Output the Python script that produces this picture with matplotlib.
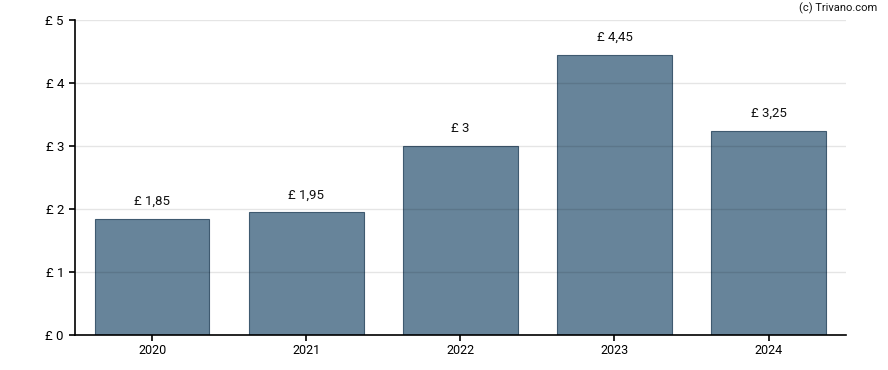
import matplotlib
matplotlib.use("Agg")
import matplotlib.pyplot as plt

# data
years = ['2020', '2021', '2022', '2023', '2024']
dividends = [1.85, 1.95, 3.0, 4.45, 3.25]
value_labels = ['£ 1,85', '£ 1,95', '£ 3', '£ 4,45', '£ 3,25']
y_ticks = [0, 1, 2, 3, 4, 5]
y_tick_labels = ['£ 0', '£ 1', '£ 2', '£ 3', '£ 4', '£ 5']

plt.rcParams['font.family'] = ['Roboto', 'DejaVu Sans']

fig = plt.figure(figsize=(8.88, 3.7), dpi=100)
ax = fig.add_axes([75 / 888, (370 - 335.3) / 370, (845.7 - 75) / 888, (335.3 - 20.3) / 370])

x = range(len(years))
bars = ax.bar(x, dividends, width=0.745, color='#67849a', edgecolor='#3f5a70',
              linewidth=0.8, zorder=2)

# value labels above bars
for i, val in enumerate(dividends):
    ax.annotate(value_labels[i], (i, val), xytext=(0, 8), textcoords='offset points',
                ha='center', va='bottom', fontsize=9.5, color='#111111')

ax.set_xlim(-0.5, len(years) - 0.5)
ax.set_ylim(0, 5)
ax.set_xticks(list(x))
ax.set_xticklabels(years, fontsize=9)
ax.set_yticks(y_ticks)
ax.set_yticklabels(y_tick_labels, fontsize=9.5)

ax.grid(axis='y', color='black', alpha=0.1, linewidth=1, zorder=3)
ax.set_axisbelow(False)

ax.spines['top'].set_visible(False)
ax.spines['right'].set_visible(False)
ax.spines['left'].set_linewidth(1.2)
ax.spines['bottom'].set_linewidth(1.2)
ax.tick_params(axis='both', length=4, width=1.2, colors='black', pad=4)
ax.tick_params(axis='x', pad=2.5)

fig.text(877 / 888, 1 - 8.5 / 370, '(c) Trivano.com', ha='right', va='center',
         fontsize=8, color='#111111')

plt.savefig('out.png', dpi=100)
